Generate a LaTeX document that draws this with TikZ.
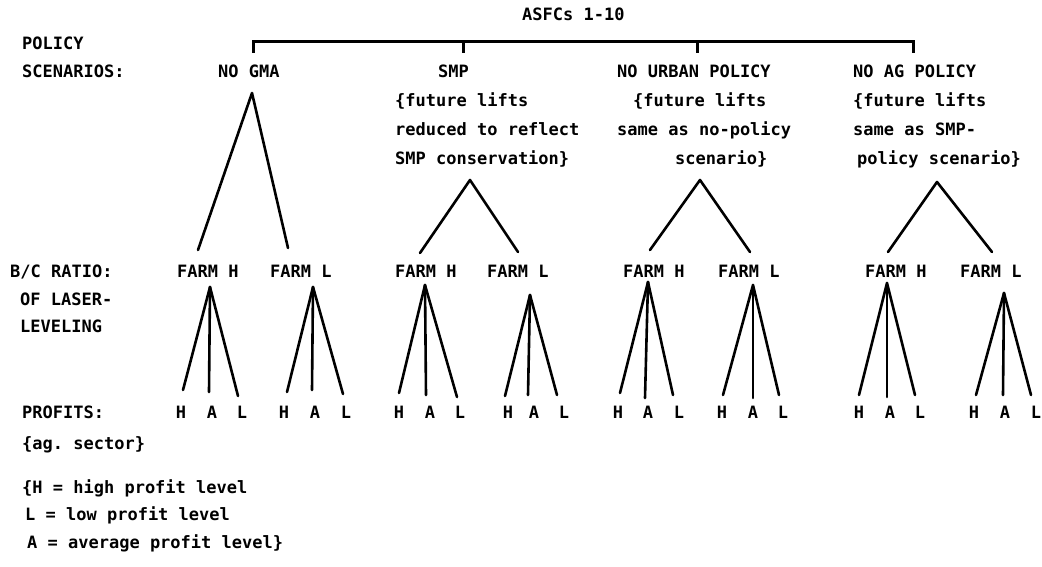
\documentclass[tikz,border=0pt]{standalone}
\usepackage{fontspec}
\setmonofont{DejaVu Sans Mono}
\begin{document}
\begin{tikzpicture}[x=1pt,y=-1pt,
  txt/.style={inner sep=0pt, anchor=base west, font=\ttfamily\bfseries\fontsize{17}{20}\selectfont},
  leaf/.style={inner sep=0pt, anchor=base, font=\ttfamily\bfseries\fontsize{17}{20}\selectfont},
  ln/.style={line width=2.6pt, line cap=round, line join=round},
  barln/.style={line width=3pt, line cap=butt, line join=miter}]
\useasboundingbox (0,0) rectangle (1042,567);
% ---- header texts
\node[txt] (asfc) at (522,21) {ASFCs 1-10};
\node[txt] (pol) at (22,50) {POLICY};
\node[txt] (scen) at (22,78) {SCENARIOS:};
\node[txt] (nogma) at (218,78) {NO GMA};
\node[txt] (smp) at (438,78) {SMP};
\node[txt] (smpa) at (395,107) {\{future lifts};
\node[txt] (smpb) at (395,136) {reduced to reflect};
\node[txt] (smpc) at (395,165) {SMP conservation\}};
\node[txt] (urb) at (617,78) {NO URBAN POLICY};
\node[txt] (urba) at (633,107) {\{future lifts};
\node[txt] (urbb) at (617,136) {same as no-policy};
\node[txt] (urbc) at (675,165) {scenario\}};
\node[txt] (ag) at (853,78) {NO AG POLICY};
\node[txt] (aga) at (853,107) {\{future lifts};
\node[txt] (agb) at (853,136) {same as SMP-};
\node[txt] (agc) at (857,165) {policy scenario\}};
% ---- left labels
\node[txt] (bc) at (10,277) {B/C RATIO:};
\node[txt] (bcb) at (20,305) {OF LASER-};
\node[txt] (bcc) at (20,332) {LEVELING};
\node[txt] (prof) at (22,418) {PROFITS:};
\node[txt] (profb) at (22,449) {\{ag. sector\}};
\node[txt] (lega) at (22,493) {\{H = high profit level};
\node[txt] (legb) at (25,520) {L = low profit level};
\node[txt] (legc) at (27,548) {A = average profit level\}};
% ---- farm row
\node[txt] (gfh) at (177,277) {FARM H};
\node[txt] (gfl) at (270,277) {FARM L};
\node[txt] (sfh) at (395,277) {FARM H};
\node[txt] (sfl) at (487,277) {FARM L};
\node[txt] (ufh) at (623,277) {FARM H};
\node[txt] (ufl) at (718,277) {FARM L};
\node[txt] (afh) at (865,277) {FARM H};
\node[txt] (afl) at (960,277) {FARM L};
% ---- leaves
\foreach \n/\x/\t in {g1h/181/H,g1a/212/A,g1l/242/L,g2h/284/H,g2a/315/A,g2l/346/L,
  s1h/399/H,s1a/430/A,s1l/460/L,s2h/508/H,s2a/534/A,s2l/564/L,
  u1h/618/H,u1a/648/A,u1l/679/L,u2h/722/H,u2a/753/A,u2l/783/L,
  a1h/859/H,a1a/890/A,a1l/920/L,a2h/974/H,a2a/1005/A,a2l/1036/L}
  \node[leaf] (\n) at (\x,418) {\t};
% ---- top bar
\coordinate (bl) at (253,42);
\coordinate (br) at (913,42);
\coordinate (tg) at (253,53);
\coordinate (ts) at (463,53);
\coordinate (tu) at (697,53);
\coordinate (ta) at (913,53);
\draw[barln] (tg) -- (bl) -- (br) -- (ta);
\draw[barln] (ts) -- (ts |- bl);
\draw[barln] (tu) -- (tu |- bl);
% ---- scenario triangles
\coordinate (gp) at (252,93);  \coordinate (gpl) at (198,250); \coordinate (gpr) at (288,248);
\coordinate (sp) at (470,180); \coordinate (spl) at (420,253); \coordinate (spr) at (518,252);
\coordinate (up) at (700,180); \coordinate (upl) at (650,250); \coordinate (upr) at (750,252);
\coordinate (ap) at (937,182); \coordinate (apl) at (888,252); \coordinate (apr) at (992,252);
\foreach \p in {g,s,u,a}
  \draw[ln] (\p pl) -- (\p p) -- (\p pr);
% ---- fans
\foreach \n/\ax/\ay/\hx/\hy/\mx/\my/\lx/\ly in {
  g1/210/287/183/390/209/392/238/396,
  g2/313/287/287/392/312/390/343/394,
  s1/425/285/399/393/426/395/457/397,
  s2/530/295/505/396/528/395/557/395,
  u1/648/282/620/393/645/398/673/395,
  u2/753/285/723/395/753/398/779/395,
  a1/887/283/859/395/887/397/915/395,
  a2/1004/293/976/395/1003/395/1031/395}{
  \coordinate (\n top) at (\ax,\ay);
  \coordinate (\n fh) at (\hx,\hy);
  \coordinate (\n fa) at (\mx,\my);
  \coordinate (\n fl) at (\lx,\ly);
  \draw[ln] (\n fh) -- (\n top) -- (\n fl);
  \draw[ln] (\n top) -- (\n fa);
}
\end{tikzpicture}
\end{document}
